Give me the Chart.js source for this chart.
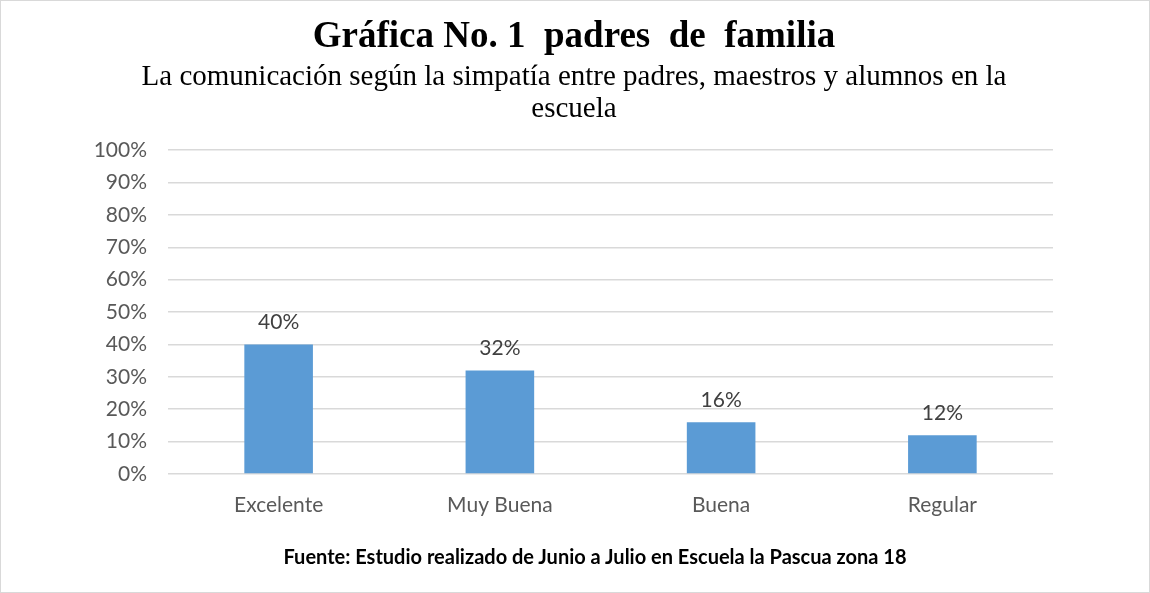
<!DOCTYPE html>
<html>
<head>
<meta charset="utf-8">
<script src="https://cdn.jsdelivr.net/npm/chart.js@4"></script>
<style>
  html, body { margin: 0; padding: 0; background: #fff; }
  #wrap { position: relative; width: 1150px; height: 593px; box-sizing: border-box; border: 1px solid #d9d9d9; }
  canvas { position: absolute; left: 0; top: 0; }
  #fuente { position: absolute; left: 0; width: 1188px; top: 543px; text-align: center;
            font: bold 20px Lato, sans-serif; color: #000; }
</style>
</head>
<body>
<div id="wrap">
  <canvas id="chart" width="1148" height="591"></canvas>
  <div id="fuente">Fuente: Estudio realizado de Junio a Julio en Escuela la Pascua zona 18</div>
</div>
<script>
const categories = ['Excelente', 'Muy Buena', 'Buena', 'Regular'];
const values = [40, 32, 16, 12];
const yTicks = [0, 10, 20, 30, 40, 50, 60, 70, 80, 90, 100];
const titleText = 'Gráfica No. 1  padres  de  familia';
const subtitleLines = ['La comunicación según la simpatía entre padres, maestros y alumnos en la', 'escuela'];

const valueLabels = {
    id: 'valueLabels',
    afterDatasetsDraw(chart) {
        const ctx = chart.ctx;
        ctx.save();
        ctx.font = '21px Lato, sans-serif';
        ctx.fillStyle = '#404040';
        ctx.textAlign = 'center';
        ctx.textBaseline = 'alphabetic';
        chart.getDatasetMeta(0).data.forEach((bar, i) => {
            ctx.fillText(values[i] + '%', bar.x, bar.y - 15);
        });
        ctx.restore();
    }
};

new Chart(document.getElementById('chart'), {
    type: 'bar',
    data: {
        labels: categories,
        datasets: [{ data: values, backgroundColor: '#5b9bd5', barPercentage: 0.31, categoryPercentage: 1 }]
    },
    options: {
        responsive: false,
        animation: false,
        layout: { padding: { left: 94, right: 96, top: 0, bottom: 0 } },
        plugins: {
            legend: { display: false },
            tooltip: { enabled: false },
            title: {
                display: true, text: titleText, color: '#000',
                font: { family: 'Liberation Serif', size: 37, weight: 'bold', lineHeight: 1.2 },
                padding: { top: 14, bottom: 2 }
            },
            subtitle: {
                display: true, text: subtitleLines, color: '#000',
                font: { family: 'Liberation Serif', size: 29, lineHeight: 1.1 },
                padding: { top: 0, bottom: 25 }
            }
        },
        scales: {
            x: {
                grid: { display: false, drawTicks: false },
                border: { display: false },
                ticks: { color: '#595959', font: { family: 'Lato', size: 21 }, padding: 19 },
                afterFit(s) { s.height = 118; }
            },
            y: {
                min: 0, max: 100,
                afterBuildTicks(s) { s.ticks = yTicks.map(v => ({ value: v })); },
                grid: { color: '#d9d9d9', lineWidth: 1.5, drawTicks: false },
                border: { display: false },
                ticks: { color: '#595959', font: { family: 'Lato', size: 21 }, padding: 21, callback: v => v + '%' },
                afterFit(s) { s.width = 73; }
            }
        }
    },
    plugins: [valueLabels]
});
</script>
</body>
</html>
